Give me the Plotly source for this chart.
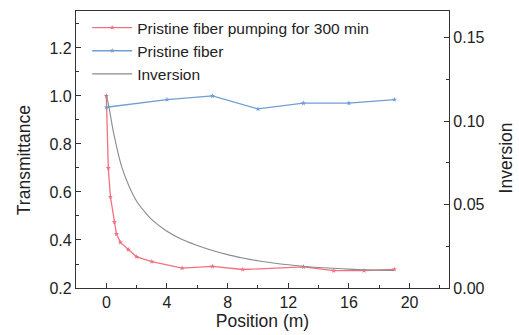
import plotly.graph_objects as go

# Data
pump_x = [0, 0.13, 0.27, 0.53, 0.67, 0.93, 1.45, 2.0, 3.0, 5.0, 7.0, 9.0, 13.0, 15.0, 17.0, 19.0]
pump_y = [1.0, 0.70, 0.58, 0.475, 0.425, 0.39, 0.36, 0.33, 0.31, 0.283, 0.29, 0.277, 0.288, 0.272, 0.272, 0.278]

pristine_x = [0, 4, 7, 10, 13, 16, 19]
pristine_y = [0.953, 0.985, 1.0, 0.946, 0.97, 0.97, 0.985]

inv_x = [0, 0.2, 0.5, 1, 1.5, 2, 2.5, 3, 4, 5, 6, 7, 8, 9, 10, 11, 12, 13, 14, 15, 16, 17, 18, 19]
inv_y = [0.116, 0.107, 0.092, 0.073, 0.061, 0.052, 0.046, 0.041, 0.034, 0.029, 0.0255, 0.0225,
         0.020, 0.018, 0.0163, 0.015, 0.0139, 0.013, 0.0123, 0.0118, 0.0113, 0.0109, 0.0107, 0.0105]

RED = "#f2707f"
BLUE = "#6f9ed4"
GRAY = "#8a8a8a"
FONT = "Liberation Sans, Arial, sans-serif"

fig = go.Figure()
fig.add_trace(go.Scatter(x=pump_x, y=pump_y, mode="lines+markers",
                         name="Pristine fiber pumping for 300 min",
                         line=dict(color=RED, width=1.3),
                         marker=dict(color=RED, size=4, symbol="star")))
fig.add_trace(go.Scatter(x=pristine_x, y=pristine_y, mode="lines+markers",
                         name="Pristine fiber",
                         line=dict(color=BLUE, width=1.3),
                         marker=dict(color=BLUE, size=4, symbol="star")))
fig.add_trace(go.Scatter(x=inv_x, y=inv_y, mode="lines", name="Inversion",
                         line=dict(color=GRAY, width=1.1, shape="spline"),
                         yaxis="y2"))

axis_common = dict(showline=True, linecolor="#333", linewidth=1.2, ticks="inside",
                   ticklen=5, tickcolor="#333", showgrid=False, zeroline=False,
                   tickfont=dict(size=16, color="#222", family=FONT))

fig.update_layout(
    width=519, height=335,
    margin=dict(l=76, r=70, t=11, b=47),
    paper_bgcolor="white", plot_bgcolor="white",
    font=dict(family=FONT, size=16, color="#222"),
    showlegend=True,
    legend=dict(x=0.03, y=1.0, xanchor="left", yanchor="top", bgcolor="rgba(0,0,0,0)",
                font=dict(size=15.5), tracegroupgap=0, itemwidth=40),
    xaxis=dict(range=[-2, 22.6], dtick=4, tick0=0, mirror=True,
               minor=dict(dtick=2, ticks="inside", ticklen=3, tickcolor="#333"),
               title=dict(text="Position (m)", standoff=0, font=dict(size=17.5)),
               **axis_common),
    yaxis=dict(range=[0.2, 1.354], dtick=0.2, tick0=0.2, tickformat=".1f",
               minor=dict(dtick=0.1, ticks="inside", ticklen=3, tickcolor="#333"),
               **axis_common),
    yaxis2=dict(range=[0, 0.166], dtick=0.05, tick0=0, tickformat=".2f",
                overlaying="y", side="right",
                minor=dict(dtick=0.025, ticks="inside", ticklen=3, tickcolor="#333"),
                **axis_common),
    annotations=[
        dict(text="Transmittance", xref="paper", yref="paper", x=-0.139, y=0.462,
             xanchor="center", yanchor="middle", textangle=-90, showarrow=False,
             font=dict(size=17.5, color="#222")),
        dict(text="Inversion", xref="paper", yref="paper", x=1.153, y=0.468,
             xanchor="center", yanchor="middle", textangle=-90, showarrow=False,
             font=dict(size=17.5, color="#222")),
    ],
)

fig.write_html("out.html")
